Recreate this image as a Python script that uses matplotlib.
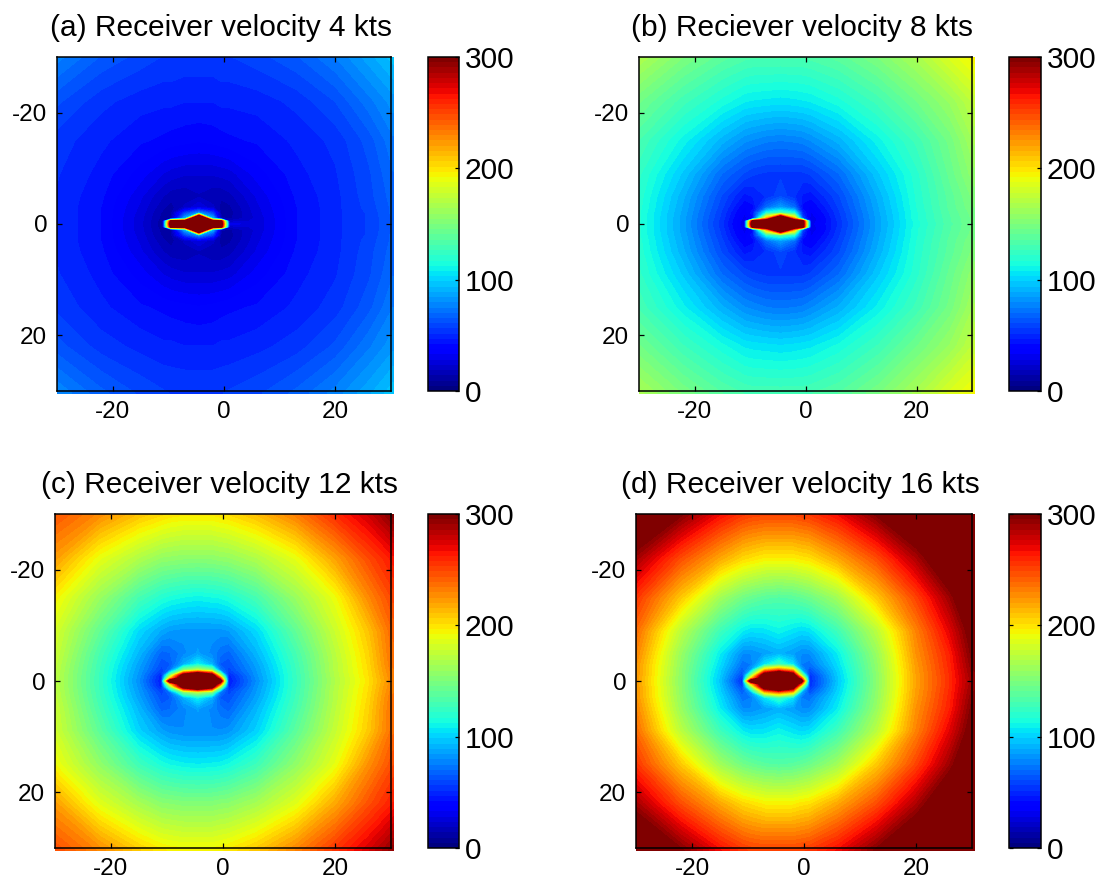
import numpy as np
import matplotlib
matplotlib.use('Agg')
import matplotlib.pyplot as plt
from matplotlib.cm import ScalarMappable
from matplotlib.colors import Normalize

plt.rcParams['font.family'] = ['Liberation Sans', 'DejaVu Sans']
plt.rcParams['axes.unicode_minus'] = False

# grid nodes, denser around the source
x_nodes = [-30, -22, -15, -11, -9.5, -7, -4.5, -2, -0.5, 1, 6, 13, 20, 26, 30.4]
y_nodes = [-30, -22, -15, -9, -5, -3, -2, -1, -0.5, 0, 0.5, 1, 2, 3, 5, 9, 15, 22, 30.4]

z_4kts = [
    [77, 65, 59, 56, 56, 55, 55, 55, 56, 56, 59, 65, 75, 87, 96],
    [62, 53, 49, 48, 48, 47, 47, 47, 48, 48, 49, 53, 61, 73, 82],
    [54, 48, 43, 41, 40, 39, 38, 39, 40, 41, 43, 48, 53, 63, 74],
    [52, 45, 35, 28, 26, 24, 24, 24, 25, 26, 35, 45, 51, 60, 70],
    [51, 43, 29, 19, 16, 15, 18, 15, 15, 17, 29, 43, 50, 59, 68],
    [51, 42, 27, 15, 12, 20, 28, 20, 12, 13, 27, 42, 50, 58, 67],
    [51, 42, 26, 13, 12, 55, 80, 55, 12, 12, 26, 42, 50, 57, 67],
    [51, 42, 25, 12, 12, 90, 500, 90, 15, 13, 25, 42, 50, 57, 66],
    [51, 42, 25, 11, 320, 330, 380, 330, 310, 20, 25, 42, 50, 57, 66],
    [51, 42, 25, 10, 350, 350, 400, 350, 330, 30, 25, 42, 50, 57, 66],
    [51, 42, 25, 11, 320, 330, 380, 330, 310, 20, 25, 42, 50, 57, 66],
    [51, 42, 25, 12, 12, 90, 500, 90, 15, 13, 25, 42, 50, 57, 66],
    [51, 42, 26, 13, 12, 55, 80, 55, 12, 12, 26, 42, 50, 57, 67],
    [51, 42, 27, 15, 12, 20, 28, 20, 12, 13, 27, 42, 50, 58, 67],
    [51, 43, 29, 19, 16, 15, 18, 15, 15, 17, 29, 43, 50, 59, 68],
    [52, 45, 35, 28, 26, 24, 24, 24, 25, 26, 35, 45, 51, 60, 70],
    [55, 48, 43, 41, 40, 39, 38, 39, 40, 41, 43, 48, 54, 64, 75],
    [63, 54, 50, 48, 48, 47, 47, 47, 48, 48, 50, 54, 62, 74, 83],
    [79, 67, 60, 57, 56, 56, 56, 56, 56, 57, 60, 67, 77, 88, 97],
]
z_8kts = [
    [168, 150, 138, 133, 132, 132, 132, 132, 132, 133, 138, 150, 166, 184, 195],
    [146, 128, 115, 108, 107, 106, 105, 106, 107, 108, 115, 128, 145, 160, 175],
    [131, 110, 91, 81, 79, 76, 75, 76, 77, 80, 91, 110, 128, 147, 165],
    [123, 97, 70, 60, 57, 55, 55, 55, 55, 57, 70, 97, 120, 142, 158],
    [120, 90, 60, 45, 47, 52, 60, 52, 46, 44, 60, 90, 118, 138, 152],
    [119, 88, 57, 37, 40, 70, 85, 70, 40, 36, 57, 88, 117, 137, 150],
    [118, 87, 55, 33, 45, 115, 130, 115, 48, 32, 55, 87, 116, 136, 148],
    [118, 86, 54, 30, 40, 220, 400, 220, 60, 27, 54, 86, 116, 135, 147],
    [118, 86, 53, 29, 320, 350, 380, 350, 320, 28, 53, 86, 115, 135, 147],
    [118, 86, 53, 28, 350, 350, 400, 350, 330, 30, 53, 86, 115, 134, 146],
    [118, 86, 53, 29, 320, 350, 380, 350, 320, 28, 53, 86, 115, 135, 147],
    [118, 86, 54, 30, 40, 220, 400, 220, 60, 27, 54, 86, 116, 135, 147],
    [118, 87, 55, 33, 45, 115, 130, 115, 48, 32, 55, 87, 116, 136, 148],
    [119, 88, 57, 37, 40, 70, 85, 70, 40, 36, 57, 88, 117, 137, 150],
    [120, 90, 60, 45, 47, 52, 60, 52, 46, 44, 60, 90, 118, 138, 152],
    [123, 97, 70, 60, 57, 55, 55, 55, 55, 57, 70, 97, 120, 142, 158],
    [130, 109, 90, 80, 78, 75, 74, 75, 76, 79, 90, 109, 128, 147, 165],
    [146, 127, 114, 107, 106, 105, 104, 105, 106, 107, 114, 127, 145, 160, 175],
    [166, 149, 136, 131, 130, 130, 130, 130, 130, 131, 136, 149, 166, 184, 193],
]
z_12kts = [
    [245, 228, 210, 203, 200, 198, 198, 198, 200, 202, 212, 232, 258, 278, 298],
    [222, 188, 168, 158, 157, 155, 155, 155, 157, 158, 168, 188, 220, 248, 265],
    [195, 160, 130, 118, 115, 112, 110, 112, 113, 116, 130, 160, 190, 228, 250],
    [182, 140, 102, 88, 84, 82, 82, 82, 82, 84, 102, 140, 178, 210, 240],
    [178, 130, 92, 68, 70, 78, 85, 78, 72, 68, 92, 130, 172, 205, 238],
    [175, 127, 86, 62, 65, 90, 110, 90, 65, 62, 86, 127, 170, 203, 236],
    [174, 126, 84, 58, 70, 150, 170, 150, 75, 58, 84, 126, 170, 202, 234],
    [173, 125, 82, 48, 150, 330, 400, 330, 170, 48, 82, 125, 169, 201, 232],
    [173, 125, 81, 47, 200, 360, 400, 360, 250, 47, 81, 125, 168, 200, 231],
    [173, 125, 80, 45, 330, 360, 400, 360, 330, 45, 80, 125, 168, 200, 230],
    [173, 125, 81, 47, 200, 360, 400, 360, 250, 47, 81, 125, 168, 200, 231],
    [173, 125, 82, 48, 150, 330, 400, 330, 170, 48, 82, 125, 169, 201, 232],
    [174, 126, 84, 58, 70, 150, 170, 150, 75, 58, 84, 126, 170, 202, 234],
    [175, 127, 86, 62, 65, 90, 110, 90, 65, 62, 86, 127, 170, 203, 236],
    [178, 130, 92, 68, 70, 78, 85, 78, 72, 68, 92, 130, 172, 205, 238],
    [180, 138, 100, 86, 82, 80, 80, 80, 80, 82, 100, 138, 176, 208, 238],
    [192, 157, 127, 115, 112, 109, 108, 109, 110, 113, 127, 157, 188, 226, 248],
    [222, 186, 165, 155, 154, 152, 152, 152, 154, 155, 165, 186, 218, 246, 263],
    [248, 228, 207, 198, 196, 194, 194, 194, 196, 198, 209, 230, 255, 276, 294],
]
z_16kts = [
    [330, 298, 268, 255, 252, 250, 250, 250, 252, 254, 268, 298, 328, 360, 380],
    [288, 247, 218, 203, 200, 195, 195, 195, 198, 200, 218, 247, 285, 322, 345],
    [255, 208, 163, 146, 142, 137, 135, 137, 140, 144, 163, 208, 250, 290, 325],
    [238, 172, 127, 108, 104, 105, 110, 105, 102, 104, 127, 172, 230, 272, 308],
    [230, 160, 108, 80, 80, 85, 90, 85, 80, 80, 108, 160, 225, 262, 302],
    [226, 157, 103, 72, 75, 105, 125, 105, 75, 72, 103, 157, 222, 260, 298],
    [225, 156, 100, 66, 85, 210, 240, 210, 90, 62, 100, 156, 221, 259, 296],
    [225, 155, 98, 58, 150, 340, 400, 340, 170, 52, 98, 155, 220, 258, 294],
    [225, 155, 97, 54, 200, 360, 400, 360, 250, 51, 97, 155, 220, 258, 293],
    [225, 155, 96, 50, 330, 360, 400, 360, 330, 50, 96, 155, 220, 258, 292],
    [225, 155, 97, 54, 200, 360, 400, 360, 250, 51, 97, 155, 220, 258, 293],
    [225, 155, 98, 58, 150, 340, 400, 340, 170, 52, 98, 155, 220, 258, 294],
    [225, 156, 100, 66, 85, 210, 240, 210, 90, 62, 100, 156, 221, 259, 296],
    [226, 157, 103, 72, 75, 105, 125, 105, 75, 72, 103, 157, 222, 260, 298],
    [230, 160, 108, 80, 80, 85, 90, 85, 80, 80, 108, 160, 225, 262, 302],
    [238, 172, 127, 108, 104, 105, 110, 105, 102, 104, 127, 172, 230, 272, 308],
    [255, 208, 163, 146, 142, 137, 135, 137, 140, 144, 163, 208, 250, 290, 325],
    [288, 247, 218, 203, 200, 195, 195, 195, 198, 200, 218, 247, 285, 322, 345],
    [330, 298, 268, 255, 252, 250, 250, 250, 252, 254, 268, 298, 328, 360, 380],
]

titles = ['(a) Receiver velocity 4 kts', '(b) Reciever velocity 8 kts',
          '(c) Receiver velocity 12 kts', '(d) Receiver velocity 16 kts']
panels = [z_4kts, z_8kts, z_12kts, z_16kts]
axis_ticks = [-20, 0, 20]
cbar_ticks = [0, 100, 200, 300]

W, H = 1100, 884
# left, top, right, bottom in pixels
map_boxes = [(57, 57, 391, 391), (639, 57, 972, 391), (55, 514, 391, 848), (636, 514, 972, 848)]
bar_boxes = [(428, 57, 459, 391), (1009, 57, 1041, 391), (428, 514, 459, 848), (1009, 514, 1041, 848)]


def add_box(fig, box):
    l, t, r, b = box
    return fig.add_axes([l / W, 1 - b / H, (r - l) / W, (b - t) / H])


fig = plt.figure(figsize=(W / 100, H / 100), dpi=100)
cmap = plt.get_cmap('jet', 64)
norm = Normalize(0, 300)
levels = np.linspace(0, 300, 65)

for i in range(4):
    ax = add_box(fig, map_boxes[i])
    cs = ax.contourf(x_nodes, y_nodes, np.array(panels[i]), levels=levels, cmap=cmap, norm=norm, extend='both')
    cs.set_clip_on(False)
    ax.set_xlim(-30, 30)
    ax.set_ylim(30, -30)
    ax.set_xticks(axis_ticks)
    ax.set_yticks(axis_ticks)
    ax.tick_params(direction='in', top=True, right=True, length=3.5, width=0.9, labelsize=17.5, pad=7)
    for s in ax.spines.values():
        s.set_linewidth(1.1)
        s.set_zorder(5)
    ax.set_title(titles[i], fontsize=21.5, x=0.49, pad=15)

    cax = add_box(fig, bar_boxes[i])
    cb = fig.colorbar(ScalarMappable(norm=norm, cmap=cmap), cax=cax, ticks=cbar_ticks)
    cb.ax.tick_params(direction='in', left=True, right=True, length=3, width=0.9, labelsize=21.5, pad=4)
    cb.outline.set_linewidth(1.1)

fig.savefig('out.png', dpi=100)
